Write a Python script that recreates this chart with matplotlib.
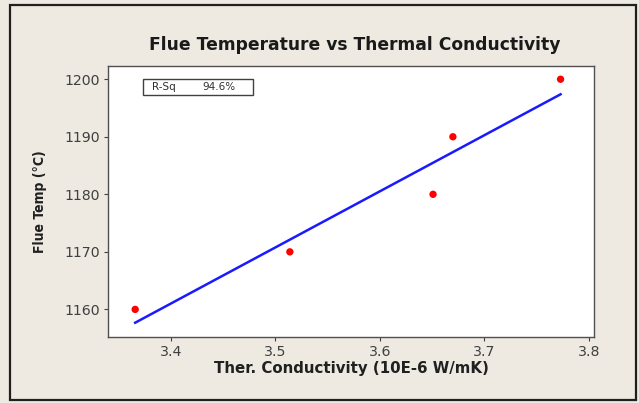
import numpy as np
import matplotlib.pyplot as plt
from matplotlib.patches import Rectangle

# data
conductivity = [3.366, 3.514, 3.651, 3.670, 3.773]
flue_temp = [1160, 1170, 1180, 1190, 1200]
r_sq_text = "94.6%"
x_ticks = [3.4, 3.5, 3.6, 3.7, 3.8]
y_ticks = [1160, 1170, 1180, 1190, 1200]

bg = '#eeeae1'
fig = plt.figure(figsize=(6.39, 4.03), dpi=100, facecolor=bg)
W, H = 639, 403

# outer frame
fig.patches.append(Rectangle((10 / W, 1 - 400 / H), 626 / W, 395 / H, transform=fig.transFigure,
                             fill=False, edgecolor='#202020', linewidth=1.6))

left, right, top, bottom = 108, 594, 66, 337
ax = fig.add_axes([left / W, 1 - bottom / H, (right - left) / W, (bottom - top) / H])
ax.set_facecolor('white')

# least squares fit line
x = np.array(conductivity)
y = np.array(flue_temp)
slope, intercept = np.polyfit(x, y, 1)
xs = np.linspace(x.min(), x.max(), 50)
ax.plot(xs, slope * xs + intercept, color='#1a1aff', linewidth=1.8)
ax.scatter(x, y, color='#ff0000', s=28, zorder=5, edgecolors='none')

ax.set_xlim(3.34, 3.805)
ax.set_ylim(1155.2, 1202.3)
ax.set_xticks(x_ticks)
ax.set_yticks(y_ticks)
ax.set_xticklabels(['%.1f' % t for t in x_ticks])
ax.tick_params(labelsize=10.2, colors='#404040', labelcolor='#404040', length=3, width=0.8, pad=3)
for s in ax.spines.values():
    s.set_color('#505050')
    s.set_linewidth(1.0)

ax.set_xlabel('Ther. Conductivity (10E-6 W/mK)', fontsize=10.8, fontweight='bold', color='#202020', labelpad=1)
ax.set_ylabel('Flue Temp (°C)', fontsize=10, fontweight='bold', color='#202020', labelpad=12,
              fontstretch='condensed', family=['Liberation Sans Narrow', 'DejaVu Sans'])
fig.text(355 / W, 1 - 45 / H, 'Flue Temperature vs Thermal Conductivity', ha='center', va='center',
         fontsize=12.3, fontweight='bold', color='#1a1a1a')

# R-Sq box
ax.add_patch(Rectangle(((143 - left) / (right - left), (bottom - 95) / (bottom - top)),
                       110 / (right - left), 16 / (bottom - top), transform=ax.transAxes,
                       fill=False, edgecolor='#404040', linewidth=1.0))
ax.text((152 - left) / (right - left), (bottom - 87) / (bottom - top), 'R-Sq', transform=ax.transAxes,
        fontsize=7.5, va='center', color='#303030')
ax.text((202 - left) / (right - left), (bottom - 87) / (bottom - top), r_sq_text, transform=ax.transAxes,
        fontsize=7.5, va='center', color='#303030')

fig.savefig('out.png', dpi=100, facecolor=bg)
